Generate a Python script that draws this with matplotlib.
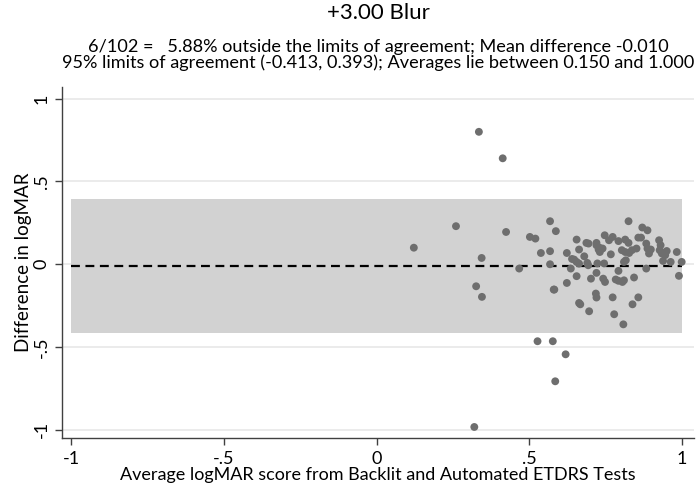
import matplotlib
matplotlib.use("Agg")
import matplotlib.pyplot as plt
import numpy as np

plt.rcParams['font.family'] = ['Lato', 'DejaVu Sans']

# ---- data ----
avg = [0.122, 0.26, 0.335, 0.413, 0.344, 0.326, 0.345, 0.424, 0.32, 0.467,
       0.502, 0.52, 0.527, 0.577, 0.619, 0.585, 0.538, 0.568, 0.587, 0.568,
       0.568, 0.582, 0.623, 0.623, 0.636, 0.647, 0.655, 0.663, 0.655, 0.655,
       0.663, 0.68, 0.663, 0.667, 0.687, 0.694, 0.69, 0.693, 0.696, 0.702,
       0.72, 0.72, 0.718, 0.72, 0.72, 0.727, 0.731, 0.74, 0.723, 0.745,
       0.742, 0.748, 0.747, 0.761, 0.767, 0.773, 0.773, 0.778, 0.783, 0.792,
       0.792, 0.792, 0.803, 0.805, 0.81, 0.808, 0.81, 0.814, 0.814, 0.816,
       0.825, 0.825, 0.827, 0.836, 0.838, 0.843, 0.851, 0.857, 0.866, 0.857,
       0.87, 0.883, 0.883, 0.887, 0.887, 0.892, 0.898, 0.925, 0.93, 0.927,
       0.934, 0.941, 0.938, 0.963, 0.983, 0.99, 0.999, 0.95, 0.945, 0.64,
       0.73, 0.58]
diff = [0.10, 0.23, 0.80, 0.64, 0.038, -0.133, -0.197, 0.195, -0.983, -0.026,
        0.165, 0.155, -0.465, -0.465, -0.544, -0.707, 0.068, 0.26, 0.20, 0.079,
        0.0, -0.153, 0.068, -0.113, -0.026, 0.028, 0.014, 0.004, 0.149, -0.072,
        0.089, 0.048, -0.234, -0.242, 0.129, 0.125, 0.008, -0.006, -0.284, -0.087,
        0.115, -0.052, -0.177, -0.201, 0.129, 0.089, 0.074, 0.095, 0.005, 0.005,
        -0.087, -0.107, 0.175, 0.145, 0.06, 0.165, -0.20, -0.302, -0.092, 0.14,
        -0.04, -0.10, 0.085, -0.107, -0.097, -0.363, 0.014, 0.149, 0.074, 0.024,
        0.26, 0.129, 0.068, 0.085, -0.242, -0.08, 0.095, 0.161, 0.161, -0.20,
        0.222, -0.026, 0.125, 0.205, 0.095, 0.065, 0.089, 0.145, 0.115, 0.085,
        0.065, 0.068, 0.02, 0.014, 0.074, -0.07, 0.014, 0.08, 0.055, 0.032,
        0.10, -0.153]

mean_diff = -0.010
loa_low, loa_high = -0.413, 0.393
ticks = [-1, -0.5, 0, 0.5, 1]
tick_labels = ["-1", "-.5", "0", ".5", "1"]

title = "+3.00 Blur"
subtitle = ("6/102 =   5.88% outside the limits of agreement; Mean difference -0.010\n"
            "95% limits of agreement (-0.413, 0.393); Averages lie between 0.150 and 1.000")

# ---- figure ----
fig = plt.figure(figsize=(6.99, 4.95), dpi=100)
ax = fig.add_axes([0.0887, 0.115, 0.904, 0.709])

ax.set_xlim(-1.03, 1.039)
ax.set_ylim(-1.05, 1.07)

for t in ticks:
    ax.axhline(t, color="#e8e8e8", lw=1.2, zorder=0)

ax.fill_between([-1, 1], loa_low, loa_high, color="#d2d2d2", lw=0, zorder=1)
ax.plot([-1, 1], [mean_diff, mean_diff], color="black", lw=1.6,
        dashes=(4, 2.5), zorder=2)
ax.scatter(avg, diff, s=32, color="#6e6e6e", edgecolors="none", zorder=3)

ax.set_xticks(ticks)
ax.set_xticklabels(tick_labels, fontsize=13)
ax.set_yticks(ticks)
ax.set_yticklabels(tick_labels, fontsize=13, rotation=90, va="center")
ax.tick_params(direction="out", length=5, width=1, color="#404040", pad=4)

for s in ["top", "right"]:
    ax.spines[s].set_visible(False)
for s in ["left", "bottom"]:
    ax.spines[s].set_color("#404040")
    ax.spines[s].set_linewidth(1)

ax.set_xlabel("Average logMAR score from Backlit and Automated ETDRS Tests",
              fontsize=13, labelpad=0)
ax.set_ylabel("Difference in logMAR", fontsize=13.5, labelpad=1)

fig.text(378 / 699, 1 - 13 / 495, title, ha="center", va="center",
         fontsize=16)
fig.text(378 / 699, 1 - 55 / 495, subtitle, ha="center", va="center",
         fontsize=13.1, linespacing=0.98)

fig.savefig("out.png", dpi=100)
